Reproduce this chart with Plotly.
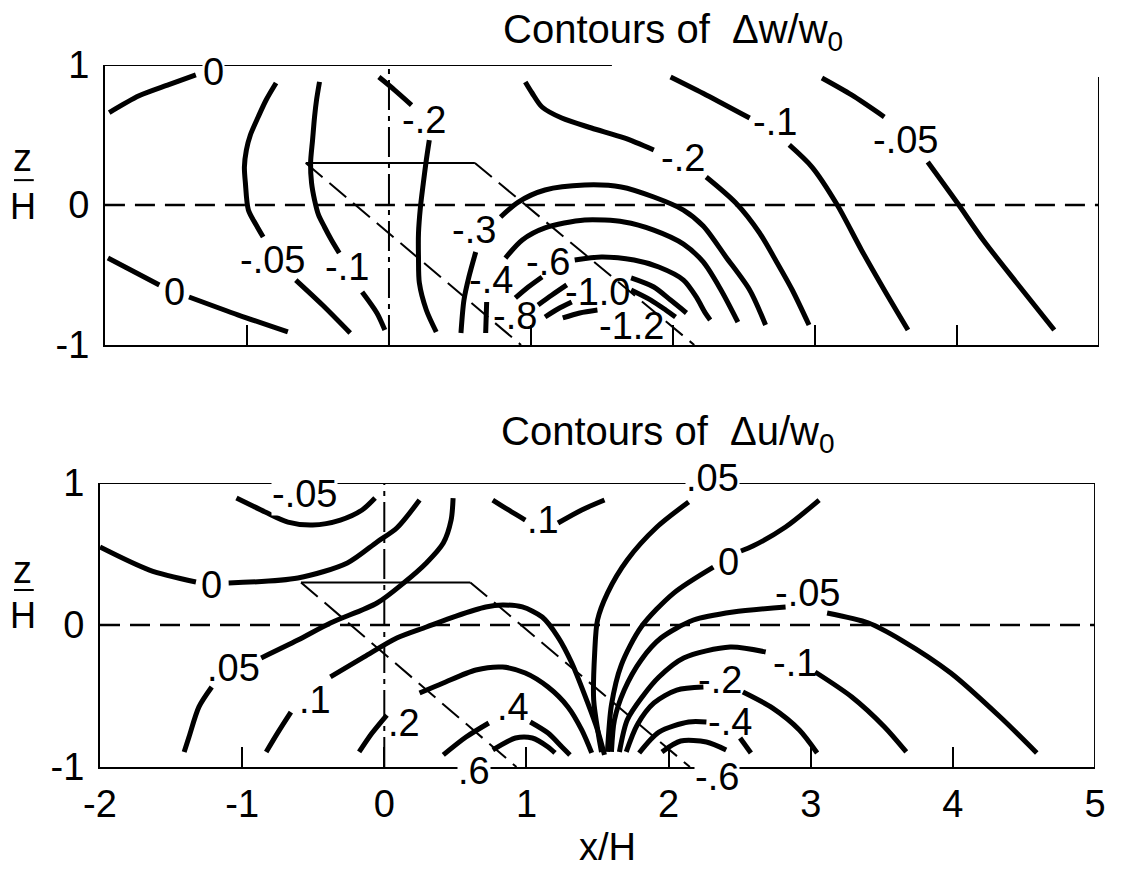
import plotly.graph_objects as go

FONT = "Liberation Sans, Arial, sans-serif"

# ---------------- axis ticks ----------------
x_tick_vals = [-2, -1, 0, 1, 2, 3, 4, 5]
x_tick_text = ["-2", "-1", "0", "1", "2", "3", "4", "5"]
z_tick_vals = [-1, 0, 1]
z_tick_text = ["-1", "0", "1"]

# ---------------- body outline (x/H, z/H) ----------------
body_top_x = [-0.586, 0.605]
body_top_z = [0.3, 0.3]
body_left_x = [-0.586, 0.93]
body_left_z = [0.3, -1.0]
body_right_x = [0.605, 2.15]
body_right_z = [0.3, -1.0]

# ---------------- Top panel: contours of dw/w0 ----------------
w_0a_x = [-1.97, -1.76, -1.55, -1.36]
w_0a_z = [0.66, 0.78, 0.86, 0.93]
w_0b_x = [-1.979, -1.791, -1.617, None, -1.408, -1.06, -0.712]
w_0b_z = [-0.379, -0.479, -0.571, None, -0.657, -0.786, -0.907]
w_m005a_x = [-0.795, -0.865, -0.921, -0.976, -1.004, -1.018, -1.011, -0.99, -0.935, -0.886,
             None, -0.656, -0.468, -0.273]
w_m005a_z = [0.871, 0.75, 0.629, 0.5, 0.393, 0.271, 0.157, -0.036, -0.143, -0.229,
             None, -0.536, -0.714, -0.914]
w_m01a_x = [-0.489, -0.51, -0.524, -0.538, -0.552, -0.545, -0.524, -0.496, -0.454, -0.405, -0.35,
            None, -0.189, -0.085, -0.029]
w_m01a_z = [0.879, 0.75, 0.629, 0.464, 0.3, 0.157, 0.036, -0.071, -0.157, -0.25, -0.343,
            None, -0.621, -0.771, -0.893]
w_m02a_x = [-0.071, 0.04, 0.159, None, 0.284, 0.263, 0.242, 0.221, 0.208, 0.208, 0.214, 0.263, 0.333]
w_m02a_z = [0.914, 0.821, 0.714, None, 0.464, 0.321, 0.157, -0.021, -0.2, -0.379, -0.557, -0.75, -0.907]
w_m02b_x = [0.96, 1.008, 1.078, 1.217, 1.426, 1.656, 1.865, None, 2.234, 2.443, 2.61, 2.722, 2.84, 2.958]
w_m02b_z = [0.879, 0.8, 0.7, 0.621, 0.55, 0.479, 0.393, None, 0.2, 0.014, -0.2, -0.393, -0.607, -0.857]
w_m01b_x = [1.983, 2.234, 2.54, None, 2.819, 2.979, 3.153, 3.327, 3.488, 3.655]
w_m01b_z = [0.914, 0.786, 0.621, None, 0.429, 0.271, 0.007, -0.321, -0.607, -0.893]
w_m005b_x = [3.049, 3.258, 3.488, None, 3.794, 4.003, 4.184, 4.421, 4.685]
w_m005b_z = [0.907, 0.786, 0.629, None, 0.307, 0.014, -0.25, -0.557, -0.893]
w_m03_x = [0.507, 0.528, 0.563, 0.611, None, 0.786, 0.911, 1.099, 1.378, 1.635, 1.865, 2.074,
           2.213, 2.373, 2.54, 2.652]
w_m03_z = [-0.914, -0.679, -0.514, -0.336, None, -0.086, 0.021, 0.107, 0.143, 0.129, 0.057, -0.036,
           -0.15, -0.371, -0.607, -0.857]
w_m04_x = [0.681, 0.688, None, 0.82, 0.939, 1.099, 1.378, 1.656, 1.865, 2.074, 2.213, 2.338, 2.457]
w_m04_z = [-0.914, -0.693, None, -0.379, -0.25, -0.164, -0.107, -0.121, -0.179, -0.279, -0.407,
           -0.607, -0.836]
w_m06_x = [0.89, 0.981, 1.078, None, 1.308, 1.496, 1.726, 1.9, 2.074, 2.164, 2.227, 2.262]
w_m06_z = [-0.664, -0.586, -0.514, None, -0.393, -0.371, -0.393, -0.443, -0.536, -0.657, -0.771, -0.821]
w_m08_x = [1.05, 1.148, 1.252, None, 1.705, 1.865, 1.983, 2.095]
w_m08_z = [-0.714, -0.643, -0.571, None, -0.521, -0.586, -0.679, -0.771]
w_m10_x = [1.099, 1.189, 1.287, None, 1.705, 1.844, 1.949, 2.018]
w_m10_z = [-0.8, -0.743, -0.693, None, -0.607, -0.679, -0.75, -0.8]
w_m12_x = [1.224, 1.343, 1.468]
w_m12_z = [-0.807, -0.771, -0.75]

w_label_text = ["0", "0", "-.05", "-.1", "-.2", "-.2", "-.1", "-.05", "-.3", "-.4", "-.6", "-.8",
                "-1.0", "-1.2"]
w_label_x = [-1.234, -1.513, -0.823, -0.294, 0.249, 2.074, 2.715, 3.634, 0.598, 0.716, 1.12, 0.89,
             1.468, 1.705]
w_label_z = [0.95, -0.621, -0.393, -0.443, 0.607, 0.336, 0.593, 0.464, -0.179, -0.536, -0.407,
             -0.793, -0.621, -0.864]
w_label_onframe = [True] + [False] * 13

# ---------------- Bottom panel: contours of du/w0 ----------------
u_m005a_x = [-1.04, -0.838, -0.678, -0.504, -0.309, -0.156, -0.065]
u_m005a_z = [0.894, 0.796, 0.725, 0.704, 0.739, 0.81, 0.894]
u_0a_x = [-2.0, -1.652, -1.325, None, -1.095, -0.608, -0.26, -0.051, 0.088, 0.248]
u_0a_z = [0.549, 0.387, 0.303, None, 0.296, 0.331, 0.437, 0.585, 0.683, 0.88]
u_005a_x = [-1.408, -1.374, -1.304, -1.214, None, -0.866, -0.608, -0.379, -0.051, 0.136, 0.296,
            0.415, 0.47, 0.484]
u_005a_z = [-0.894, -0.789, -0.577, -0.437, None, -0.232, -0.106, 0.014, 0.155, 0.296, 0.437,
            0.577, 0.739, 0.894]
u_01a_x = [-0.831, -0.747, -0.657, None, -0.379, -0.142, 0.088, 0.296, 0.505, 0.714, 0.832, 0.971,
           1.111, 1.222, 1.319, 1.431, 1.5, 1.549]
u_01a_z = [-0.894, -0.754, -0.613, None, -0.366, -0.225, -0.092, -0.014, 0.063, 0.127, 0.141, 0.127,
           0.056, -0.085, -0.268, -0.549, -0.739, -0.915]
u_02_x = [-0.177, -0.086, 0.018, None, 0.248, 0.415, 0.644, 0.832, 0.992, 1.152, 1.292, 1.389, 1.459]
u_02_z = [-0.894, -0.761, -0.634, None, -0.479, -0.408, -0.317, -0.296, -0.338, -0.437, -0.577,
          -0.739, -0.901]
u_04_x = [0.415, 0.575, 0.735, None, 1.027, 1.152, 1.25, 1.306]
u_04_z = [-0.915, -0.789, -0.69, None, -0.683, -0.761, -0.859, -0.915]
u_06_x = [0.763, 0.923, 1.041, 1.152, 1.201]
u_06_z = [-0.88, -0.796, -0.796, -0.859, -0.901]
u_01b_x = [0.763, 0.874, 0.992, None, 1.222, 1.389, 1.549]
u_01b_z = [0.88, 0.81, 0.739, None, 0.718, 0.81, 0.88]
u_005b_x = [2.141, 1.918, 1.709, 1.57, 1.5, 1.48, 1.473, 1.507, 1.528]
u_005b_z = [0.866, 0.69, 0.458, 0.225, 0.035, -0.197, -0.528, -0.775, -0.894]
u_0b_x = [3.059, 2.823, 2.593, 2.509, None, 2.315, 2.036, 1.807, 1.667, 1.598, 1.57]
u_0b_z = [0.88, 0.69, 0.556, 0.521, None, 0.408, 0.225, -0.014, -0.282, -0.563, -0.894]
u_m005b_x = [4.59, 4.333, 3.985, 3.637, 3.407, 3.115, None, 2.823, 2.454, 2.175, 1.946, 1.807,
             1.688, 1.619, 1.598]
u_m005b_z = [-0.901, -0.648, -0.338, -0.106, 0.014, 0.085, None, 0.127, 0.092, 0.035, -0.092,
             -0.246, -0.458, -0.669, -0.894]
u_m01_x = [3.672, 3.519, 3.289, 3.031, None, 2.683, 2.433, 2.106, 1.932, 1.814, 1.709, 1.654]
u_m01_z = [-0.894, -0.718, -0.507, -0.331, None, -0.19, -0.155, -0.232, -0.366, -0.507, -0.669, -0.894]
u_m02_x = [3.045, 2.92, 2.732, 2.523, None, 2.245, 2.057, 1.897, 1.779, 1.702]
u_m02_z = [-0.901, -0.739, -0.585, -0.472, None, -0.437, -0.458, -0.549, -0.704, -0.894]
u_m04_x = [1.793, 1.932, 2.141, 2.266, None, 2.503, 2.579]
u_m04_z = [-0.901, -0.754, -0.683, -0.683, None, -0.796, -0.901]
u_m06_x = [1.953, 2.085, 2.266, 2.405]
u_m06_z = [-0.894, -0.817, -0.824, -0.88]

# labels; those sitting on the frame are anchored at the frame (z=+-1) and nudged in pixels
u_label_text = ["-.05", "0", ".05", ".1", ".2", ".4", ".6", ".1", ".05", "0", "-.05", "-.1", "-.2",
                "-.4", "-.6"]
u_label_x = [-0.56, -1.214, -1.061, -0.49, 0.136, 0.902, 0.63, 1.118, 2.308, 2.419, 2.976, 2.892,
             2.363, 2.433, 2.342]
u_label_z = [0.923, 0.282, -0.303, -0.528, -0.69, -0.577, -1.0, 0.739, 1.0, 0.444, 0.225,
             -0.268, -0.387, -0.683, -1.0]
u_label_shift = [0, 0, 0, 0, 0, 0, -4, 0, 5, 0, 0, 0, 0, 0, -10]
u_label_onframe = [True, False, False, False, False, False, True, False, True, False, False, False,
                   False, False, True]

fig = go.Figure()


def add_line(xs, zs, panel, width=5, dash="solid", smooth=True):
    fig.add_trace(go.Scatter(
        x=xs, y=zs, xaxis="x" if panel == 1 else "x2", yaxis="y" if panel == 1 else "y2",
        mode="lines", connectgaps=False, hoverinfo="skip", showlegend=False, cliponaxis=False,
        line=dict(color="black", width=width, dash=dash,
                  shape="spline" if smooth else "linear", smoothing=0.8)))


for p in (1, 2):
    add_line(body_top_x, body_top_z, p, width=2, smooth=False)
    add_line(body_left_x, body_left_z, p, width=2, dash="22px,9px", smooth=False)
    add_line(body_right_x, body_right_z, p, width=2, dash="22px,9px", smooth=False)

for xs, zs in [(w_0a_x, w_0a_z), (w_0b_x, w_0b_z), (w_m005a_x, w_m005a_z), (w_m01a_x, w_m01a_z),
               (w_m02a_x, w_m02a_z), (w_m02b_x, w_m02b_z), (w_m01b_x, w_m01b_z),
               (w_m005b_x, w_m005b_z), (w_m03_x, w_m03_z), (w_m04_x, w_m04_z), (w_m06_x, w_m06_z),
               (w_m08_x, w_m08_z), (w_m10_x, w_m10_z), (w_m12_x, w_m12_z)]:
    add_line(xs, zs, 1)

for xs, zs in [(u_m005a_x, u_m005a_z), (u_0a_x, u_0a_z), (u_005a_x, u_005a_z), (u_01a_x, u_01a_z),
               (u_02_x, u_02_z), (u_04_x, u_04_z), (u_06_x, u_06_z), (u_01b_x, u_01b_z),
               (u_005b_x, u_005b_z), (u_0b_x, u_0b_z), (u_m005b_x, u_m005b_z), (u_m01_x, u_m01_z),
               (u_m02_x, u_m02_z), (u_m04_x, u_m04_z), (u_m06_x, u_m06_z)]:
    add_line(xs, zs, 2)

LBL = dict(family=FONT, size=38, color="black")
annotations = []
for t, x, z, onf in zip(w_label_text, w_label_x, w_label_z, w_label_onframe):
    annotations.append(dict(text=t, x=x, y=z, xref="x", yref="y", showarrow=False, font=LBL,
                            xanchor="center", yanchor="middle",
                            bgcolor="white" if onf else "rgba(0,0,0,0)", borderpad=0))
for t, x, z, sh, onf in zip(u_label_text, u_label_x, u_label_z, u_label_shift, u_label_onframe):
    annotations.append(dict(text=t, x=x, y=z, xref="x2", yref="y2", showarrow=False, font=LBL,
                            xanchor="center", yanchor="middle", yshift=sh,
                            bgcolor="white" if onf else "rgba(0,0,0,0)", borderpad=0))

TF = dict(family=FONT, size=40, color="black")
ZF = dict(family=FONT, size=38, color="black")
HF = dict(family=FONT, size=36, color="black")
annotations += [
    dict(text="Contours of  \u0394w/w<sub>0</sub>", x=0.401, y=1.047, xref="paper", yref="paper",
         xanchor="left", yanchor="middle", showarrow=False, font=TF),
    dict(text="Contours of  \u0394u/w<sub>0</sub>", x=0.399, y=0.474, xref="paper", yref="paper",
         xanchor="left", yanchor="middle", showarrow=False, font=TF),
    dict(text="z", x=-0.0772, y=0.867, xref="paper", yref="paper", showarrow=False,
         xanchor="center", yanchor="middle", font=ZF),
    dict(text="H", x=-0.0772, y=0.798, xref="paper", yref="paper", showarrow=False,
         xanchor="center", yanchor="middle", font=HF),
    dict(text="z", x=-0.0772, y=0.281, xref="paper", yref="paper", showarrow=False,
         xanchor="center", yanchor="middle", font=ZF),
    dict(text="H", x=-0.0772, y=0.216, xref="paper", yref="paper", showarrow=False,
         xanchor="center", yanchor="middle", font=HF),
    dict(text="x/H", x=0.508, y=-0.114, xref="paper", yref="paper", showarrow=False,
         xanchor="center", yanchor="middle", font=dict(family=FONT, size=38, color="black")),
]

BL = dict(color="black", width=2)
shapes = [
    # fraction bars of z/H
    dict(type="line", xref="paper", yref="paper", x0=-0.0861, x1=-0.0663, y0=0.836, y1=0.836, line=BL),
    dict(type="line", xref="paper", yref="paper", x0=-0.0861, x1=-0.0663, y0=0.2521, y1=0.2521, line=BL),
    # top panel partial frame
    dict(type="line", xref="x", yref="y", x0=-2, x1=1.57, y0=1, y1=1, line=BL),
    dict(type="line", xref="x", yref="y", x0=5, x1=5, y0=-1, y1=0.914, line=BL),
    # bottom panel frame
    dict(type="line", xref="x2", yref="y2", x0=-2, x1=5, y0=1, y1=1, line=BL),
    dict(type="line", xref="x2", yref="y2", x0=5, x1=5, y0=-1, y1=1, line=BL),
    # reference lines z=0 and x=0
    dict(type="line", xref="x", yref="y", x0=-2, x1=5, y0=0, y1=0,
         line=dict(color="black", width=2.5, dash="20px,10px")),
    dict(type="line", xref="x2", yref="y2", x0=-2, x1=5, y0=0, y1=0,
         line=dict(color="black", width=2.5, dash="20px,10px")),
    dict(type="line", xref="x", yref="y", x0=0, x1=0, y0=-1, y1=1,
         line=dict(color="black", width=2, dash="30px,6px,5px,6px")),
    dict(type="line", xref="x2", yref="y2", x0=0, x1=0, y0=-1, y1=1,
         line=dict(color="black", width=2, dash="30px,6px,5px,6px")),
]

TICKF = dict(family=FONT, size=38, color="black")
common_x = dict(range=[-2, 5], showgrid=False, zeroline=False, showline=True, linecolor="black",
                linewidth=2, ticks="inside", ticklen=20, tickwidth=2, tickcolor="black",
                tickvals=x_tick_vals, ticktext=x_tick_text, tickfont=TICKF)
common_y = dict(range=[-1, 1], showgrid=False, zeroline=False, showline=True, linecolor="black",
                linewidth=2, ticks="", tickvals=z_tick_vals, ticktext=z_tick_text, tickfont=TICKF,
                ticklabelstandoff=6)

fig.update_layout(
    width=1121, height=873, autosize=False,
    margin=dict(l=100, r=11, t=65, b=106, pad=0),
    paper_bgcolor="white", plot_bgcolor="white",
    showlegend=False,
    xaxis=dict(common_x, domain=[0.00495, 1.0], anchor="y", showticklabels=False),
    yaxis=dict(common_y, domain=[0.60114, 1.0], anchor="x"),
    xaxis2=dict(common_x, domain=[0.0, 0.99604], anchor="y2", showticklabels=True,
                ticklabelstandoff=2),
    yaxis2=dict(common_y, domain=[0.0, 0.40456], anchor="x2"),
    annotations=annotations,
    shapes=shapes,
)

fig.write_html("out.html")
